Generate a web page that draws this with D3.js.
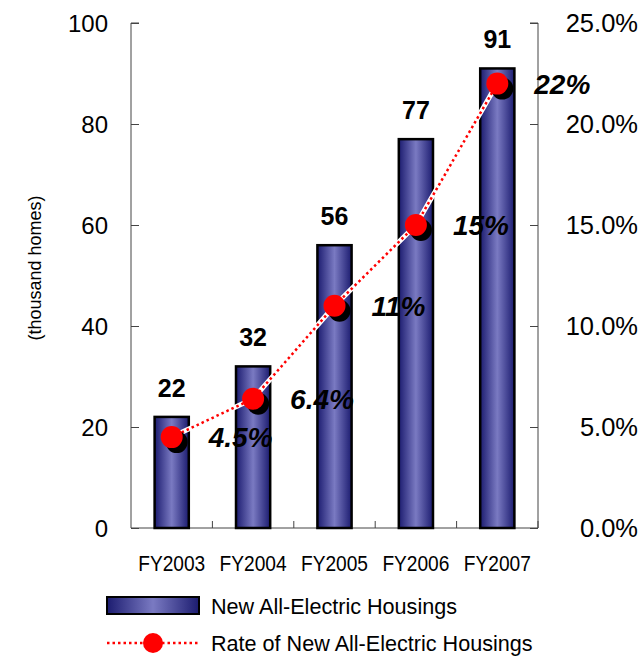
<!DOCTYPE html>
<html><head><meta charset="utf-8">
<script src="https://cdn.jsdelivr.net/npm/d3@7"></script>
<style>body{margin:0;background:#fff}svg{display:block;font-family:"Liberation Sans",Arial,sans-serif}</style>
</head><body><svg id="c" width="644" height="657"></svg>
<script>
const categories = ["FY2003","FY2004","FY2005","FY2006","FY2007"];
const housings = [22,32,56,77,91];
const rates = [4.5,6.4,11,15,22];
const rateLabels = ["4.5%","6.4%","11%","15%","22%"];
const leftTicks = [0,20,40,60,80,100];
const rightTicks = [0,5,10,15,20,25];
const seriesNames = ["New All-Electric Housings","Rate of New All-Electric Housings"];

const svg = d3.select("#c");
const L=131,R=538,T=23,B=528;
const x = d3.scaleBand().domain(categories).range([L,R]).paddingInner(0.58).paddingOuter(0.29);
const xb = d3.scaleBand().domain(categories).range([L,R]);
const y = d3.scaleLinear().domain([0,100]).range([B,T]);
const y2 = d3.scaleLinear().domain([0,25]).range([B,T]);

const defs = svg.append("defs");
const g = defs.append("linearGradient").attr("id","bg").attr("x1","0").attr("x2","1").attr("y1","0").attr("y2","0");
g.append("stop").attr("offset","0").attr("stop-color","#1c1c70");
g.append("stop").attr("offset","0.5").attr("stop-color","#7a7ac2");
g.append("stop").attr("offset","1").attr("stop-color","#1c1c70");

// axes
const axc="#444";
const ya = svg.append("g").attr("transform",`translate(${L},0)`).call(d3.axisRight(y).tickValues(leftTicks).tickSize(8).tickFormat(""));
ya.select(".domain").attr("stroke",axc).attr("d",`M8,${T}H0V${B}`);
ya.selectAll(".tick line").attr("stroke",axc);
svg.append("g").selectAll("text").data(leftTicks).join("text")
  .attr("x",108).attr("y",d=>y(d)).attr("dy","0.36em").attr("text-anchor","end")
  .attr("font-size",24).text(d=>d);

const y2a = svg.append("g").attr("transform",`translate(${R},0)`).call(d3.axisLeft(y2).tickValues(rightTicks).tickSize(8).tickFormat(""));
y2a.select(".domain").attr("stroke",axc).attr("d",`M-8,${T}H0V${B}`);
y2a.selectAll(".tick line").attr("stroke",axc);
svg.append("g").selectAll("text").data(rightTicks).join("text")
  .attr("x",638).attr("y",d=>y2(d)).attr("dy","0.36em").attr("text-anchor","end")
  .attr("font-size",25.5).text(d=>d.toFixed(1)+"%");

const xa = svg.append("g").attr("transform",`translate(0,${B})`)
  .call(d3.axisTop(xb).tickSize(0).tickFormat(""));
xa.select(".domain").attr("stroke",axc).attr("d",`M${L},0H${R}`);
svg.append("g").selectAll("line").data(categories).join("line")
  .attr("x1",d=>xb(d)+xb.bandwidth()).attr("x2",d=>xb(d)+xb.bandwidth())
  .attr("y1",B).attr("y2",B-7).attr("stroke",axc);
svg.append("g").selectAll("text").data(categories).join("text")
  .attr("transform",d=>`translate(${xb(d)+xb.bandwidth()/2},563) scale(0.87,1)`).attr("dy","0.36em")
  .attr("text-anchor","middle").attr("font-size",22).text(d=>d);

svg.append("text").attr("transform","translate(35,268) rotate(-90)")
  .attr("text-anchor","middle").attr("dy","0.36em").attr("font-size",18).text("(thousand homes)");

// bars
svg.append("g").selectAll("rect").data(housings).join("rect")
  .attr("x",(d,i)=>x(categories[i])).attr("width",x.bandwidth())
  .attr("y",d=>y(d)).attr("height",d=>B-y(d))
  .attr("fill","url(#bg)").attr("stroke","#000").attr("stroke-width",2.5);
svg.append("g").selectAll("text").data(housings).join("text")
  .attr("x",(d,i)=>xb(categories[i])+xb.bandwidth()/2).attr("y",d=>y(d)-20)
  .attr("text-anchor","middle").attr("font-size",25).attr("font-weight","bold").text(d=>d);

// line
const cx=(i)=>xb(categories[i])+xb.bandwidth()/2;
const line = d3.line().x((d,i)=>cx(i)).y(d=>y2(d));
svg.append("path").datum(rates).attr("d",line).attr("fill","none").attr("stroke","#fff").attr("stroke-width",5);
svg.append("path").datum(rates).attr("d",line).attr("fill","none").attr("stroke","#f00").attr("stroke-width",2.5).attr("stroke-dasharray","2.5,3");
svg.append("g").selectAll("circle").data(rates).join("circle")
  .attr("cx",(d,i)=>cx(i)+5).attr("cy",d=>y2(d)+5).attr("r",11).attr("fill","#000");
svg.append("g").selectAll("circle").data(rates).join("circle")
  .attr("cx",(d,i)=>cx(i)).attr("cy",d=>y2(d)).attr("r",11).attr("fill","#f00");
svg.append("g").selectAll("text").data(rates).join("text")
  .attr("x",(d,i)=>cx(i)+37).attr("y",d=>y2(d)).attr("dy","0.36em")
  .attr("font-size",28).attr("font-weight","bold").attr("font-style","italic").text((d,i)=>rateLabels[i]);

// legend
const lg = svg.append("g");
lg.append("rect").attr("x",107).attr("y",597).attr("width",92).attr("height",17)
  .attr("fill","url(#bg)").attr("stroke","#000").attr("stroke-width",2);
lg.append("text").attr("x",211).attr("y",606).attr("dy","0.36em").attr("font-size",21.6).text(seriesNames[0]);
lg.append("line").attr("x1",107).attr("x2",199).attr("y1",643).attr("y2",643)
  .attr("stroke","#f00").attr("stroke-width",2.5).attr("stroke-dasharray","2.5,3");
lg.append("circle").attr("cx",153).attr("cy",643).attr("r",10).attr("fill","#f00");
lg.append("text").attr("x",211).attr("y",643).attr("dy","0.36em").attr("font-size",21.6).text(seriesNames[1]);
</script></body></html>
